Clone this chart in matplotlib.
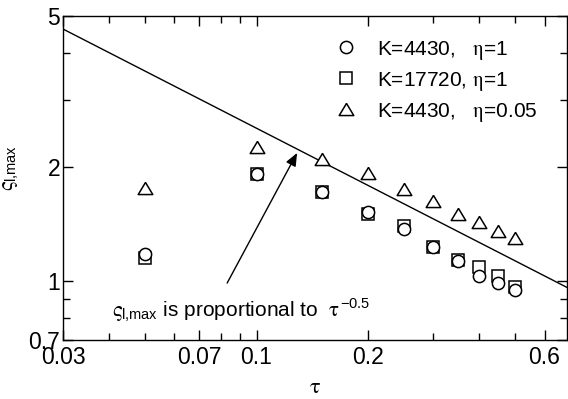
import matplotlib
matplotlib.use('Agg')
import matplotlib.pyplot as plt
from matplotlib.ticker import FixedLocator, FixedFormatter, NullFormatter

plt.rcParams['font.family'] = ['Liberation Sans', 'DejaVu Sans']
plt.rcParams['mathtext.fontset'] = 'custom'
plt.rcParams['mathtext.rm'] = 'Liberation Sans'
plt.rcParams['mathtext.it'] = 'STIXGeneral'
plt.rcParams['mathtext.bf'] = 'Liberation Sans:bold'

# dimensionless time and peak values for each run
tau = [0.05, 0.1, 0.15, 0.2, 0.25, 0.3, 0.35, 0.4, 0.45, 0.5]
sig_k4430 = [1.18, 1.92, 1.72, 1.52, 1.37, 1.23, 1.13, 1.03, 0.99, 0.95]
sig_k17720 = [1.15, 1.92, 1.72, 1.50, 1.40, 1.23, 1.14, 1.09, 1.03, 0.965]
sig_eta005 = [1.76, 2.26, 2.10, 1.93, 1.75, 1.63, 1.50, 1.43, 1.36, 1.30]

# tau^-0.5 reference line end points
line_tau = [0.03, 0.69]
line_sig = [4.62, 0.963]

xticks = [0.03, 0.07, 0.1, 0.2, 0.6]
xminor = [0.04, 0.05, 0.06, 0.08, 0.09, 0.3, 0.4, 0.5]
yticks = [0.7, 1, 2, 5]
yminor = [0.8, 0.9, 3, 4]

fig = plt.figure(figsize=(5.68, 3.99), dpi=100)
ax = fig.add_axes([63 / 568, 59 / 399, 504 / 568, 324 / 399])

ax.plot(line_tau, line_sig, color='black', lw=1.0, zorder=2)

tri = [(0, 0.83), (-1, -0.83), (1, -0.83), (0, 0.83)]
mk = dict(ls='none', mfc='white', mec='black', mew=1.1)
h2, = ax.plot(tau, sig_k17720, marker='s', ms=9.0, zorder=3, **mk)
h1, = ax.plot(tau, sig_k4430, marker='o', ms=8.8, zorder=4, **mk)
h3, = ax.plot(tau, sig_eta005, marker=tri, ms=10.5, zorder=3, **mk)

ax.set_xscale('log')
ax.set_yscale('log')
ax.set_xlim(0.03, 0.69)
ax.set_ylim(0.7, 5)

ax.xaxis.set_major_locator(FixedLocator(xticks))
ax.xaxis.set_major_formatter(FixedFormatter([str(v) for v in xticks]))
ax.xaxis.set_minor_locator(FixedLocator(xminor))
ax.xaxis.set_minor_formatter(NullFormatter())
ax.yaxis.set_major_locator(FixedLocator(yticks))
ax.yaxis.set_major_formatter(FixedFormatter([str(v) for v in yticks]))
ax.yaxis.set_minor_locator(FixedLocator(yminor))
ax.yaxis.set_minor_formatter(NullFormatter())

ax.tick_params(which='both', direction='in', top=True, right=True, width=1.0)
ax.tick_params(which='major', length=7, labelsize=16.5)
ax.tick_params(which='minor', length=5)
ax.tick_params(axis='x', which='major', pad=4)
ax.tick_params(axis='y', which='major', pad=2)
for sp in ax.spines.values():
    sp.set_linewidth(1.0)

ax.set_xlabel(r'$\tau$', fontsize=16)
ax.xaxis.set_label_coords(0.5, -0.115)
ax.set_ylabel(r'$\varsigma_{\mathrm{l{,}max}}$', fontsize=15)
ax.yaxis.set_label_coords(-0.085, 0.53)

ax.legend([h1, h2, h3],
          ['K=4430,   $\\eta$=1', 'K=17720, $\\eta$=1', 'K=4430,   $\\eta$=0.05'],
          loc='upper left', bbox_to_anchor=(0.541, 0.93), frameon=False,
          fontsize=15, handlelength=1.0, handletextpad=1.0,
          labelspacing=0.38, borderpad=0, borderaxespad=0)

ax.annotate('', xy=(0.1287, 2.178), xytext=(0.0833, 0.989),
            arrowprops=dict(arrowstyle='-|>,head_length=0.6,head_width=0.25',
                            color='black', lw=1.0, shrinkA=0, shrinkB=0,
                            mutation_scale=13))
ax.text(0.0406, 0.805,
        r'$\varsigma_{\mathrm{l{,}max}}$ is proportional to  $\tau^{-0.5}$',
        fontsize=15, va='baseline', ha='left')

fig.savefig('out.png', dpi=100)
